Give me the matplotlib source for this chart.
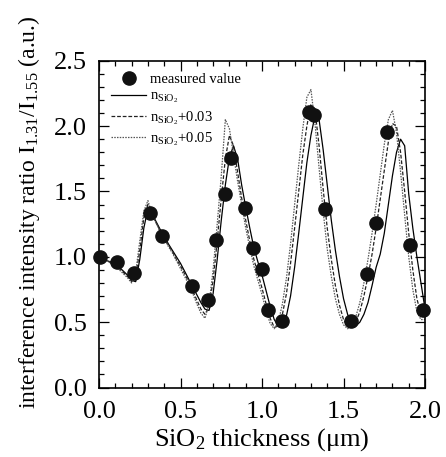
import numpy as np
import matplotlib
matplotlib.use("Agg")
import matplotlib.pyplot as plt
from matplotlib.ticker import MultipleLocator

plt.rcParams['font.family'] = ['Liberation Serif', 'DejaVu Serif']
plt.rcParams['mathtext.fontset'] = 'custom'
plt.rcParams['mathtext.rm'] = 'Liberation Serif'
plt.rcParams['mathtext.it'] = 'Liberation Serif:italic'
plt.rcParams['mathtext.default'] = 'regular'

# --- measured points ---
meas_x = [0.006, 0.108, 0.213, 0.311, 0.389, 0.569, 0.671, 0.718, 0.771, 0.810,
          0.894, 0.947, 1.002, 1.039, 1.121, 1.290, 1.319, 1.384, 1.548, 1.644,
          1.697, 1.769, 1.908, 1.990]
meas_y = [1.00, 0.958, 0.879, 1.338, 1.162, 0.777, 0.670, 1.129, 1.478, 1.756,
          1.371, 1.065, 0.905, 0.594, 0.512, 2.107, 2.085, 1.363, 0.512, 0.872,
          1.259, 1.952, 1.088, 0.594]

# --- simulated curves (on a 0.025 um grid) ---
thick = [i * 0.025 for i in range(81)]

n_base = [1.00, 0.99, 0.97, 0.96, 0.94, 0.92, 0.89, 0.86, 0.82, 0.81,
          0.98, 1.22, 1.37, 1.33, 1.27, 1.21, 1.16, 1.10, 1.05, 1.00,
          0.95, 0.89, 0.83, 0.77, 0.71, 0.65, 0.60, 0.59, 0.72, 0.98,
          1.28, 1.55, 1.76, 1.85, 1.75, 1.55, 1.38, 1.22, 1.07, 0.96,
          0.86, 0.74, 0.62, 0.52, 0.47, 0.48, 0.55, 0.70, 0.92, 1.18,
          1.45, 1.72, 1.93, 2.08, 2.05, 1.82, 1.55, 1.28, 1.05, 0.85,
          0.68, 0.56, 0.49, 0.47, 0.50, 0.56, 0.65, 0.78, 0.92, 1.02,
          1.18, 1.40, 1.62, 1.80, 1.90, 1.85, 1.48, 1.22, 1.00, 0.80,
          0.60]

n_p03 = [1.00, 0.99, 0.97, 0.95, 0.93, 0.91, 0.88, 0.85, 0.81, 0.85,
         1.05, 1.30, 1.40, 1.32, 1.26, 1.20, 1.15, 1.09, 1.04, 0.98,
         0.93, 0.87, 0.81, 0.74, 0.67, 0.60, 0.56, 0.62, 0.82, 1.12,
         1.45, 1.75, 1.93, 1.85, 1.65, 1.45, 1.28, 1.12, 0.98, 0.87,
         0.76, 0.64, 0.53, 0.46, 0.47, 0.56, 0.72, 0.95, 1.22, 1.50,
         1.78, 2.00, 2.17, 2.12, 1.85, 1.52, 1.22, 0.98, 0.78, 0.63,
         0.52, 0.47, 0.46, 0.50, 0.58, 0.70, 0.85, 1.02, 1.22, 1.44,
         1.66, 1.88, 2.02, 2.00, 1.80, 1.50, 1.18, 0.90, 0.68, 0.56,
         0.54]

n_p05 = [1.00, 0.98, 0.97, 0.95, 0.93, 0.90, 0.87, 0.84, 0.80, 0.88,
         1.12, 1.35, 1.43, 1.33, 1.26, 1.19, 1.14, 1.08, 1.03, 0.97,
         0.91, 0.85, 0.79, 0.72, 0.64, 0.57, 0.53, 0.64, 0.90, 1.25,
         1.62, 2.05, 1.98, 1.78, 1.58, 1.40, 1.22, 1.07, 0.93, 0.82,
         0.71, 0.59, 0.49, 0.45, 0.50, 0.64, 0.84, 1.10, 1.40, 1.70,
         1.98, 2.22, 2.28, 2.02, 1.68, 1.35, 1.06, 0.85, 0.68, 0.56,
         0.48, 0.45, 0.47, 0.54, 0.65, 0.80, 0.98, 1.18, 1.40, 1.63,
         1.86, 2.05, 2.12, 1.95, 1.65, 1.32, 1.00, 0.75, 0.58, 0.52,
         0.52]

fig = plt.figure(figsize=(4.46, 4.57), dpi=100)
ax = fig.add_axes([0.222, 0.152, 0.731, 0.715])

ax.plot(thick, n_base, '-', color='black', lw=0.9, label=r'n$_{SiO_2}$')
ax.plot(thick, n_p03, color='#222222', lw=0.9, dashes=(3, 1.5),
        label=r'n$_{SiO_2}$+0.03')
ax.plot(thick, n_p05, color='#555555', lw=0.9, dashes=(1.2, 1.0),
        label=r'n$_{SiO_2}$+0.05')
ax.plot(meas_x, meas_y, 'o', color='#111111', ms=9.5, ls='none',
        label='measured value', zorder=5, clip_on=False)

ax.set_xlim(0, 2.0)
ax.set_ylim(0, 2.5)
ax.xaxis.set_major_locator(MultipleLocator(0.5))
ax.xaxis.set_minor_locator(MultipleLocator(0.1))
ax.yaxis.set_major_locator(MultipleLocator(0.5))
ax.yaxis.set_minor_locator(MultipleLocator(0.1))
ax.tick_params(which='both', direction='in', top=True, right=True,
               width=0.9, labelsize=19)
ax.tick_params(axis='x', pad=10)
ax.tick_params(axis='y', pad=9)
ax.tick_params(which='major', length=7)
ax.tick_params(which='minor', length=3.5)
for s in ax.spines.values():
    s.set_linewidth(1.2)

ax.set_xlabel(r'SiO$_2$ thickness ($\mu$m)', fontsize=19, labelpad=2)
ax.set_ylabel(r'interference intensity ratio I$_{1.31}$/I$_{1.55}$ (a.u.)',
              fontsize=17)
ax.yaxis.set_label_coords(-0.175, 0.537)

h, l = ax.get_legend_handles_labels()
order = [3, 0, 1, 2]
ax.legend([h[i] for i in order], [l[i] for i in order], loc='upper left',
          bbox_to_anchor=(0.01, 0.99), frameon=False, fontsize=10.5,
          handlelength=2.4, handletextpad=0.3, labelspacing=0.25,
          borderaxespad=0.2)

fig.savefig('out.png', dpi=100)
